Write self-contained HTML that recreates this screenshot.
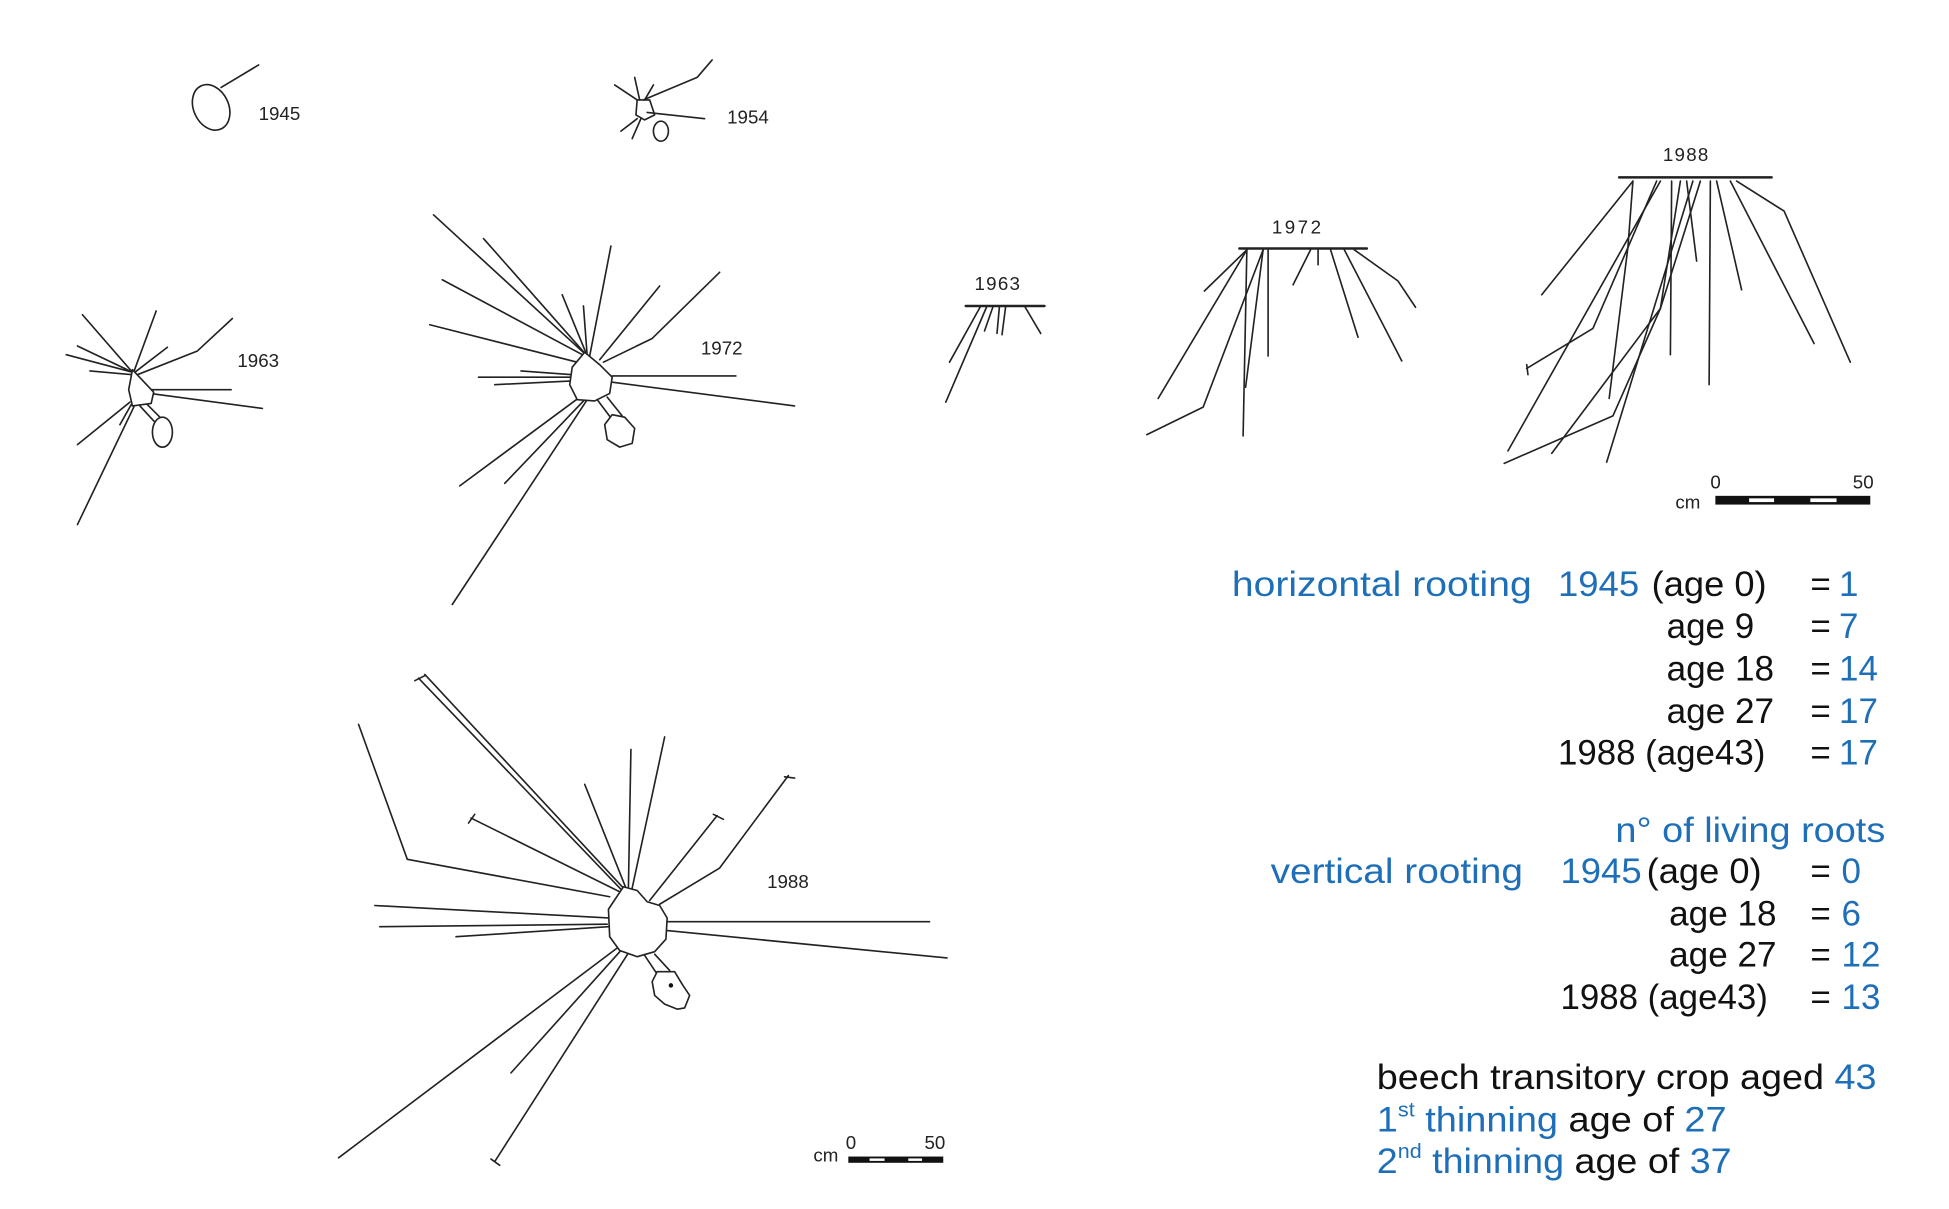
<!DOCTYPE html>
<html><head><meta charset="utf-8"><style>
html,body{margin:0;padding:0;background:#fff;}
svg{display:block;}
.d{fill:none;stroke:#222;stroke-width:1.3;stroke-linejoin:round;stroke-linecap:round;}
.l{font-family:"Liberation Sans",sans-serif;font-size:15px;fill:#222;}
.t{font-family:"Liberation Sans",sans-serif;font-size:28px;fill:#111;}
.b{fill:#1f6fb8;}
</style></head><body>
<svg width="1949" height="1209" viewBox="0 0 1560 968" preserveAspectRatio="none" xmlns="http://www.w3.org/2000/svg">
<rect width="1560" height="968" fill="#fff"/>
<!-- 1945 -->
<ellipse class="d" cx="169" cy="86" rx="14" ry="19" transform="rotate(-25 169 86)"/>
<line class="d" x1="177" y1="70" x2="207" y2="52"/>
<text class="l" x="207" y="96">1945</text>
<!-- 1954 -->
<g class="d">
<path d="M515,80 L558,62 L570,48"/><line x1="510" y1="80" x2="492" y2="68"/><line x1="512" y1="80" x2="508" y2="62"/>
<line x1="516" y1="80" x2="523" y2="68"/><line x1="518" y1="90" x2="564" y2="95"/>
<line x1="510" y1="95" x2="497" y2="105"/><line x1="513" y1="95" x2="506" y2="111"/>
<path d="M510,80 L520,80 L524,92 L516,96 L509,92 Z"/>
<ellipse cx="529" cy="105" rx="6" ry="8"/>
</g>
<text class="l" x="582" y="99">1954</text>
<!-- 1963 top -->
<g class="d">
<line x1="106" y1="298" x2="66" y2="252"/><line x1="107" y1="298" x2="125" y2="249"/>
<path d="M110,300 L158,281 L186,255"/><line x1="106" y1="298" x2="53" y2="284"/>
<line x1="106" y1="298" x2="62" y2="277"/><line x1="106" y1="300" x2="72" y2="297"/>
<line x1="108" y1="298" x2="134" y2="278"/><line x1="120" y1="312" x2="185" y2="312"/>
<line x1="120" y1="315" x2="210" y2="327"/><line x1="104" y1="322" x2="62" y2="356"/>
<line x1="108" y1="324" x2="62" y2="420"/><line x1="105" y1="324" x2="96" y2="340"/>
<path d="M106,296 L123,314 L121,323 L106,325 L103,312 Z" fill="#fff"/>
<path d="M112,325 L124,338 M118,324 L130,336"/>
<ellipse cx="130" cy="346" rx="8" ry="12" fill="#fff"/>
</g>
<text class="l" x="190" y="294">1963</text>
<!-- 1972 top -->
<g class="d">
<line x1="470" y1="285" x2="347" y2="172"/><line x1="470" y1="285" x2="387" y2="191"/>
<line x1="468" y1="285" x2="354" y2="224"/><line x1="462" y1="290" x2="344" y2="260"/>
<line x1="472" y1="285" x2="489" y2="197"/><path d="M483,290 L522,271 L576,218"/>
<line x1="480" y1="288" x2="528" y2="229"/><line x1="470" y1="285" x2="450" y2="236"/>
<line x1="470" y1="285" x2="467" y2="245"/><line x1="458" y1="300" x2="417" y2="297"/>
<line x1="458" y1="302" x2="383" y2="302"/><line x1="458" y1="305" x2="396" y2="308"/>
<line x1="490" y1="301" x2="589" y2="301"/><line x1="490" y1="306" x2="636" y2="325"/>
<line x1="464" y1="318" x2="368" y2="389"/><line x1="468" y1="320" x2="404" y2="387"/>
<line x1="470" y1="320" x2="362" y2="484"/>
<path d="M468,282 L480,292 L490,302 L488,315 L476,321 L462,320 L456,308 L458,294 Z" fill="#fff"/>
<path d="M478,320 L490,336 M486,318 L498,333"/>
<path d="M490,332 L500,334 L508,343 L506,355 L496,358 L486,352 L484,340 Z" fill="#fff"/>
</g>
<text class="l" x="561" y="284">1972</text>
<!-- 1963 vertical -->
<g class="d">
<line x1="773" y1="245" x2="836" y2="245" stroke-width="2"/>
<line x1="785" y1="245" x2="760" y2="290"/><line x1="790" y1="245" x2="757" y2="322"/>
<line x1="795" y1="245" x2="788" y2="265"/><line x1="800" y1="245" x2="798" y2="267"/>
<line x1="805" y1="245" x2="802" y2="268"/><line x1="820" y1="245" x2="833" y2="267"/>
</g>
<text class="l" x="780" y="232" font-size="19" letter-spacing="1">1963</text>
<!-- 1972 vertical -->
<g class="d">
<line x1="992" y1="199" x2="1094" y2="199" stroke-width="2"/>
<line x1="998" y1="200" x2="964" y2="233"/><line x1="998" y1="200" x2="927" y2="319"/>
<path d="M1011,200 L963,326 L918,348"/><line x1="998" y1="200" x2="995" y2="349"/>
<line x1="1011" y1="200" x2="997" y2="310"/><line x1="1015" y1="200" x2="1015" y2="285"/>
<line x1="1049" y1="200" x2="1035" y2="228"/><line x1="1055" y1="200" x2="1055" y2="212"/>
<line x1="1065" y1="200" x2="1087" y2="270"/><line x1="1076" y1="200" x2="1122" y2="289"/>
<path d="M1084,200 L1119,225 L1133,246"/>
</g>
<text class="l" x="1018" y="187" font-size="19" letter-spacing="2">1972</text>
<!-- 1988 vertical -->
<g class="d">
<line x1="1296" y1="142" x2="1418" y2="142" stroke-width="2"/>
<line x1="1307" y1="145" x2="1234" y2="236"/>
<path d="M1307,145 L1303,198 L1288,319"/>
<path d="M1326,145 L1275,263 L1222,295"/><line x1="1222" y1="292" x2="1223" y2="300"/>
<line x1="1329" y1="145" x2="1207" y2="361"/>
<line x1="1338" y1="145" x2="1337" y2="284"/>
<path d="M1345,145 L1329,247 L1291,333 L1204,371"/>
<line x1="1350" y1="145" x2="1358" y2="209"/>
<path d="M1361,145 L1329,247 L1242,363"/>
<line x1="1355" y1="145" x2="1286" y2="370"/>
<line x1="1369" y1="145" x2="1368" y2="308"/>
<line x1="1374" y1="145" x2="1394" y2="232"/>
<line x1="1385" y1="145" x2="1452" y2="275"/>
<path d="M1390,145 L1428,169 L1481,290"/>
</g>
<text class="l" x="1331" y="129" font-size="19" letter-spacing="1">1988</text>
<text class="l" x="1369" y="391" font-size="19">0</text>
<text class="l" x="1483" y="391" font-size="19">50</text>
<text class="l" x="1341" y="407" font-size="16">cm</text>
<rect x="1373" y="397" width="124" height="7" fill="#111"/>
<rect x="1400" y="399" width="20" height="3" fill="#fff"/>
<rect x="1449" y="399" width="21" height="3" fill="#fff"/>
<!-- 1988 top -->
<g class="d">
<line x1="499" y1="711" x2="340" y2="540"/><line x1="497" y1="712" x2="335" y2="543"/>
<line x1="332" y1="545" x2="340" y2="541"/>
<path d="M488,718 L326,688 L287,580"/>
<line x1="496" y1="714" x2="377" y2="655"/><line x1="375" y1="659" x2="380" y2="652"/>
<line x1="501" y1="711" x2="468" y2="628"/>
<line x1="503" y1="710" x2="505" y2="600"/>
<line x1="506" y1="711" x2="532" y2="590"/>
<line x1="520" y1="721" x2="574" y2="653"/><line x1="571" y1="652" x2="579" y2="656"/>
<path d="M528,724 L576,695 L631,621"/><line x1="628" y1="622" x2="636" y2="623"/>
<line x1="487" y1="735" x2="300" y2="725"/><line x1="486" y1="740" x2="304" y2="742"/>
<line x1="487" y1="742" x2="365" y2="750"/>
<line x1="533" y1="738" x2="744" y2="738"/><line x1="533" y1="745" x2="758" y2="767"/>
<line x1="494" y1="759" x2="271" y2="927"/><line x1="497" y1="761" x2="409" y2="859"/>
<line x1="503" y1="763" x2="396" y2="930"/><line x1="393" y1="928" x2="400" y2="933"/>
<path d="M499,710 L510,713 L518,722 L528,725 L534,735 L533,752 L524,762 L510,766 L496,761 L488,750 L487,728 Z" fill="#fff"/>
<path d="M516,765 L526,780 M524,764 L536,777"/>
<path d="M526,778 L540,778 L546,788 L552,797 L548,807 L542,808 L532,804 L524,797 L522,786 Z" fill="#fff"/>
</g>
<circle cx="537" cy="789" r="1.8" fill="#111"/>
<text class="l" x="614" y="711">1988</text>
<text class="l" x="651" y="930" font-size="14">cm</text>
<text class="l" x="677" y="920" font-size="14">0</text>
<text class="l" x="740" y="920" font-size="14">50</text>
<rect x="679" y="926" width="76" height="5" fill="#111"/>
<rect x="696" y="927.5" width="12" height="2" fill="#fff"/>
<rect x="727" y="927.5" width="11" height="2" fill="#fff"/>
<!-- text block -->
<g class="t">
<text class="b" x="986" y="477" textLength="240" lengthAdjust="spacingAndGlyphs">horizontal rooting</text>
<text class="b" x="1247" y="477" textLength="65" lengthAdjust="spacingAndGlyphs">1945</text>
<text x="1322" y="477" textLength="92" lengthAdjust="spacingAndGlyphs">(age 0)</text>
<text x="1449" y="477">=</text><text class="b" x="1472" y="477">1</text>
<text x="1334" y="511">age 9</text><text x="1449" y="511">=</text><text class="b" x="1472" y="511">7</text>
<text x="1334" y="545" textLength="86" lengthAdjust="spacingAndGlyphs">age 18</text><text x="1449" y="545">=</text><text class="b" x="1472" y="545">14</text>
<text x="1334" y="579" textLength="86" lengthAdjust="spacingAndGlyphs">age 27</text><text x="1449" y="579">=</text><text class="b" x="1472" y="579">17</text>
<text x="1247" y="612" textLength="166" lengthAdjust="spacingAndGlyphs">1988 (age43)</text><text x="1449" y="612">=</text><text class="b" x="1472" y="612">17</text>
<text class="b" x="1293" y="674" textLength="216" lengthAdjust="spacingAndGlyphs">n° of living roots</text>
<text class="b" x="1017" y="707" textLength="202" lengthAdjust="spacingAndGlyphs">vertical rooting</text>
<text class="b" x="1249" y="707" textLength="65" lengthAdjust="spacingAndGlyphs">1945</text>
<text x="1318" y="707" textLength="92" lengthAdjust="spacingAndGlyphs">(age 0)</text>
<text x="1449" y="707">=</text><text class="b" x="1474" y="707">0</text>
<text x="1336" y="741" textLength="86" lengthAdjust="spacingAndGlyphs">age 18</text><text x="1449" y="741">=</text><text class="b" x="1474" y="741">6</text>
<text x="1336" y="774" textLength="86" lengthAdjust="spacingAndGlyphs">age 27</text><text x="1449" y="774">=</text><text class="b" x="1474" y="774">12</text>
<text x="1249" y="808" textLength="166" lengthAdjust="spacingAndGlyphs">1988 (age43)</text><text x="1449" y="808">=</text><text class="b" x="1474" y="808">13</text>
<text x="1102" y="872" textLength="400" lengthAdjust="spacingAndGlyphs">beech transitory crop aged <tspan class="b">43</tspan></text>
<text x="1102" y="906" textLength="280" lengthAdjust="spacingAndGlyphs"><tspan class="b">1</tspan><tspan class="b" font-size="16" dy="-12">st</tspan><tspan class="b" dy="12"> thinning</tspan> age of <tspan class="b">27</tspan></text>
<text x="1102" y="939" textLength="284" lengthAdjust="spacingAndGlyphs"><tspan class="b">2</tspan><tspan class="b" font-size="16" dy="-12">nd</tspan><tspan class="b" dy="12"> thinning</tspan> age of <tspan class="b">37</tspan></text>
</g>
</svg>
</body></html>
